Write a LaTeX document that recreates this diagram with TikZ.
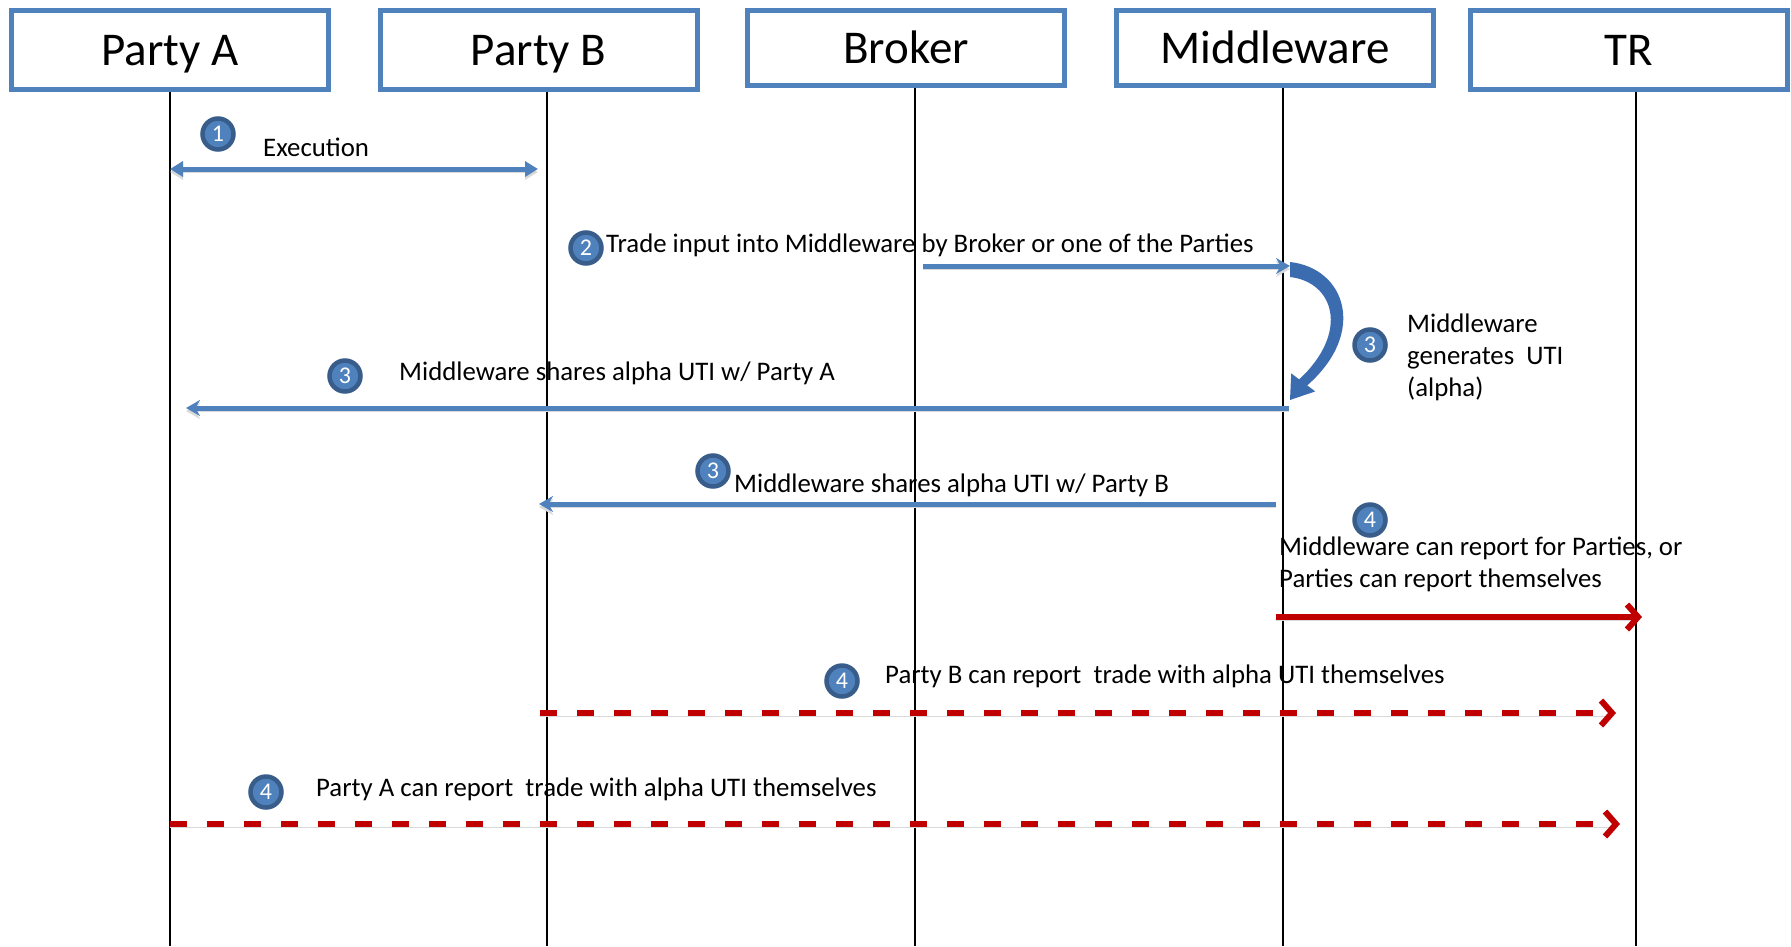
\documentclass[tikz,border=0pt]{standalone}
\usepackage{fontspec}
\setmainfont{Carlito}
\usetikzlibrary{arrows.meta}
\definecolor{hdrblue}{HTML}{4F81BD}
\definecolor{arrblue}{HTML}{4F81BD}
\definecolor{curveblue}{HTML}{3C6CB0}
\definecolor{ringblue}{HTML}{385D8A}
\definecolor{badgeblue}{HTML}{4F81BD}
\definecolor{redc}{HTML}{C00000}
\begin{document}
\begin{tikzpicture}[x=1pt,y=-1pt,
  hdr/.style={draw=hdrblue, line width=5pt, fill=white, minimum width=317pt, inner sep=0pt,
    text height=36pt, text depth=6pt, font=\fontsize{47}{56}\selectfont},
  life/.style={line width=1.6pt, black},
  badge/.style={circle, draw=ringblue, line width=4.5pt, fill=badgeblue, minimum size=31pt,
    inner sep=0pt, text=white, font=\fontsize{24}{28}\selectfont},
  lbl/.style={anchor=base west, inner sep=0pt, font=\fontsize{26.8}{32}\selectfont},
  shad/.style={preaction={draw=black!15, transform canvas={yshift=-3pt}}},
  bluearr/.style={draw=arrblue, line width=5pt, shad, -{Stealth[length=14pt,width=16pt]}},
  execarr/.style={draw=arrblue, line width=5pt, shad, {Triangle[length=13pt,width=15pt]}-{Triangle[length=13pt,width=15pt]}},
  redarrow/.style={draw=redc, line width=6pt, shad, -{Straight Barb[length=11pt,width=25pt]}},
  reddash/.style={redarrow, dash pattern=on 17pt off 20pt},
]
\useasboundingbox (0,0) rectangle (1791,946);

% headers
\node[hdr, minimum height=79pt] (pa) at (170,50) {Party A};
\node[hdr, minimum height=79pt] (pb) at (538.5,50) {Party B};
\node[hdr, minimum height=75pt] (br) at (906,48) {Broker};
\node[hdr, minimum height=75pt] (mw) at (1275,48) {Middleware};
\node[hdr, minimum height=79pt] (tr) at (1628.5,50) {TR};

% lifelines
\coordinate (la) at (170,946);
\coordinate (lb) at (547,946);
\coordinate (lc) at (915,946);
\coordinate (ld) at (1283,946);
\coordinate (le) at (1636,946);
\draw[life] (pa.south -| la) -- (la);
\draw[life] (pb.south -| lb) -- (lb);
\draw[life] (br.south -| lc) -- (lc);
\draw[life] (mw.south -| ld) -- (ld);
\draw[life] (tr.south -| le) -- (le);

% arrow end points
\coordinate (e1) at (170,169);
\coordinate (e2) at (538,169);
\coordinate (t1) at (923,266);
\coordinate (t2) at (1290,266);
\coordinate (s1) at (1289,408);
\coordinate (s2) at (186,408);
\coordinate (u1) at (1276,504);
\coordinate (u2) at (539,504);
\coordinate (r1) at (1276,617);
\coordinate (r2) at (1642,617);
\coordinate (d1) at (540,713);
\coordinate (d2) at (1616,713);
\coordinate (f1) at (170,824);
\coordinate (f2) at (1620,824);

% arrows
\draw[execarr] (e1) -- (e2);
\draw[bluearr] (t1) -- (t2);
\draw[bluearr] (s1) -- (s2);
\draw[bluearr] (u1) -- (u2);
\draw[redarrow] (r1) -- (r2);
\draw[reddash] (d1) -- (d2);
\draw[reddash] (f1) -- (f2);

% curved arrow (Middleware generates UTI)
\fill[curveblue] (1290,262) .. controls (1345,268) and (1368,332) .. (1307.2,385.4)
  -- (1315.2,391.4) -- (1290,400) -- (1291.2,373.4) -- (1299.2,379.4)
  .. controls (1350,332) and (1334,282) .. (1290,277) -- cycle;

% labels
\node[lbl] (tx1) at (263,156) {Execution};
\node[lbl] (tx2) at (606,252) {Trade input into Middleware by Broker or one of the Parties};
\node[lbl] (tx3) at (1407,332) {\begin{tabular}[t]{@{}l@{}}Middleware\\generates\ \ UTI\\(alpha)\end{tabular}};
\node[lbl] (tx4) at (399,380) {Middleware shares alpha UTI w/ Party A};
\node[lbl] (tx5) at (734,492) {Middleware shares alpha UTI w/ Party B};
\node[lbl] (tx6) at (1279,555) {\begin{tabular}[t]{@{}l@{}}Middleware can report for Parties, or\\Parties can report themselves\end{tabular}};
\node[lbl] (tx7) at (885,683) {Party B can report\ \ trade with alpha UTI themselves};
\node[lbl] (tx8) at (316,796) {Party A can report\ \ trade with alpha UTI themselves};

% badges
\node[badge] (b1) at (218,134) {1};
\node[badge] (b2) at (586,248) {2};
\node[badge] (b3) at (1370,345) {3};
\node[badge] (b4) at (345,376) {3};
\node[badge] (b5) at (713,471) {3};
\node[badge] (b6) at (1370,520) {4};
\node[badge] (b7) at (842,681) {4};
\node[badge] (b8) at (266,792) {4};
\end{tikzpicture}
\end{document}
